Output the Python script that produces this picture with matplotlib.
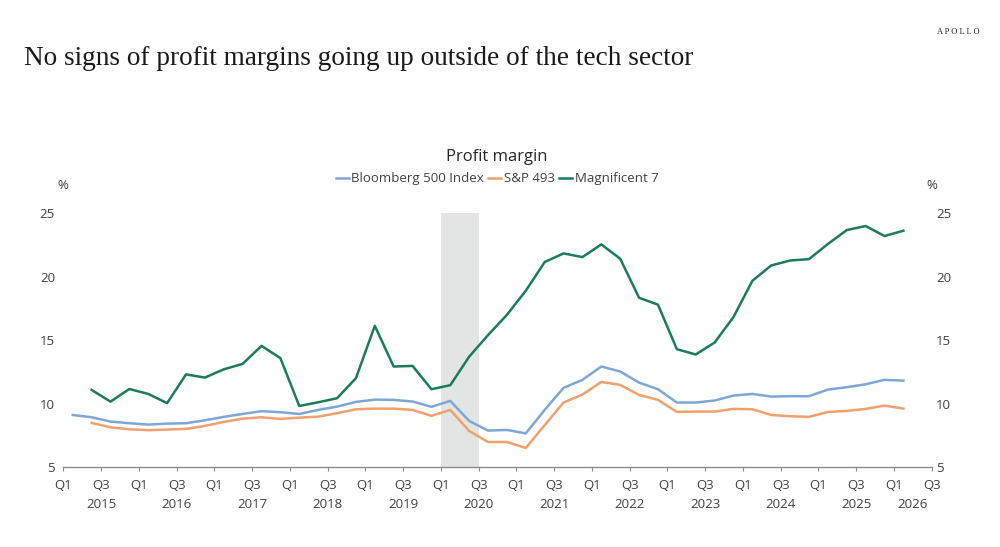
import numpy as np
import matplotlib
matplotlib.use('Agg')
import matplotlib.pyplot as plt
from matplotlib.lines import Line2D

# quarterly data, Q1 2015 .. Q1 2026 (values in %)
quarters = ['%d Q%d' % (y, q) for y in range(2015, 2027) for q in range(1, 5)][:45]

bloomberg500 = [9.10, 8.92, 8.58, 8.45, 8.34, 8.42, 8.45, 8.68, 8.95, 9.18,
                9.40, 9.32, 9.18, 9.50, 9.76, 10.13, 10.31, 10.29, 10.16, 9.74,
                10.21, 8.63, 7.87, 7.92, 7.65, 9.50, 11.24, 11.87, 12.92, 12.53,
                11.65, 11.13, 10.08, 10.08, 10.24, 10.63, 10.76, 10.55, 10.58, 10.58,
                11.10, 11.29, 11.52, 11.87, 11.81]

# S&P 493 and Magnificent 7 start in Q2 2015
sp493 = [None, 8.47, 8.13, 7.97, 7.90, 7.95, 8.00, 8.24, 8.55, 8.81,
         8.92, 8.79, 8.89, 8.97, 9.24, 9.55, 9.60, 9.60, 9.50, 9.03,
         9.50, 7.84, 6.97, 6.97, 6.50, 8.30, 10.08, 10.71, 11.71, 11.47,
         10.68, 10.29, 9.34, 9.37, 9.37, 9.58, 9.55, 9.10, 9.00, 8.95,
         9.34, 9.42, 9.58, 9.84, 9.60]

mag7 = [None, 11.08, 10.15, 11.15, 10.76, 10.03, 12.30, 12.05, 12.70, 13.13,
        14.55, 13.58, 9.81, 10.10, 10.42, 12.00, 16.13, 12.92, 12.97, 11.13,
        11.45, 13.70, 15.40, 17.00, 18.90, 21.16, 21.84, 21.55, 22.55, 21.42,
        18.34, 17.80, 14.29, 13.87, 14.81, 16.82, 19.68, 20.89, 21.28, 21.39,
        22.58, 23.68, 24.00, 23.21, 23.63]

recession = (2020.0, 2020.5)  # Q1 2020 .. Q3 2020
years = list(range(2015, 2027))

c_blue = '#7ea7d6'
c_orange = '#f0a06c'
c_green = '#1c7a5d'
c_text = '#404040'

# x position: year + (quarter-1)/4 + half a quarter (points sit mid-quarter)
x = np.array([int(s[:4]) + (int(s[-1]) - 1) / 4 + 0.125 for s in quarters])
sp = np.array([np.nan if v is None else v for v in sp493], dtype=float)
m7 = np.array([np.nan if v is None else v for v in mag7], dtype=float)

plt.rcParams['font.family'] = ['Open Sans', 'DejaVu Sans']

fig = plt.figure(figsize=(10, 5.47), dpi=100)
ax = fig.add_axes([0.0633, 0.1463, 0.8684, 0.4637])

ax.axvspan(recession[0], recession[1], color='#e3e4e4', lw=0, zorder=0)
ax.plot(x, bloomberg500, color=c_blue, lw=1.8, zorder=3)
ax.plot(x, sp, color=c_orange, lw=1.8, zorder=3)
ax.plot(x, m7, color=c_green, lw=1.8, zorder=3)

ax.set_xlim(2015, 2026.5)
ax.set_ylim(5, 25)

for s in ['top', 'left', 'right']:
    ax.spines[s].set_visible(False)
ax.spines['bottom'].set_color('#8c8c8c')
ax.spines['bottom'].set_linewidth(1.0)

xt = np.arange(2015, 2026.51, 0.5)
ax.set_xticks(xt)
ax.set_xticklabels(['Q1' if abs(t % 1) < 1e-6 else 'Q3' for t in xt])
ax.tick_params(axis='x', length=3, color='#8c8c8c', labelsize=9.5,
               labelcolor=c_text, pad=6)
ax.set_yticks([5, 10, 15, 20, 25])
ax.tick_params(axis='y', length=0, labelsize=9.5, labelcolor=c_text, pad=6)

ax2 = ax.twinx()
ax2.set_ylim(5, 25)
ax2.set_yticks([5, 10, 15, 20, 25])
ax2.tick_params(axis='y', length=0, labelsize=9.5, labelcolor=c_text, pad=3)
for s in ax2.spines.values():
    s.set_visible(False)

# year labels under the quarter labels
for yr in years:
    xm = yr + 0.5 if yr < 2026 else 2026.25
    ax.text(xm, -0.122, str(yr), transform=ax.get_xaxis_transform(),
            ha='center', va='top', fontsize=9.5, color=c_text)

ax.text(0.0, 1.085, '%', transform=ax.transAxes, ha='center', va='bottom',
        fontsize=9.5, color=c_text)
ax.text(1.0, 1.085, '%', transform=ax.transAxes, ha='center', va='bottom',
        fontsize=9.5, color=c_text)

fig.text(0.497, 0.713, 'Profit margin', ha='center', va='center',
         fontsize=12, color='#262626')

handles = [Line2D([], [], color=c_blue, lw=1.8),
           Line2D([], [], color=c_orange, lw=1.8),
           Line2D([], [], color=c_green, lw=1.8)]
fig.legend(handles, ['Bloomberg 500 Index', 'S&P 493', 'Magnificent 7'],
           loc='center', bbox_to_anchor=(0.497, 0.673), ncol=3, frameon=False,
           fontsize=9.5, handlelength=1.0, handletextpad=0.2, columnspacing=0.3,
           labelcolor=c_text)

fig.text(0.024, 0.893, 'No signs of profit margins going up outside of the tech sector',
         ha='left', va='center', fontsize=19.6, family='Liberation Serif', color='#1a1a1a')
fig.text(0.98, 0.942, 'A P O L L O', ha='right', va='center', fontsize=6,
         family='Liberation Serif', color='#222222')

fig.savefig('out.png', dpi=100)
